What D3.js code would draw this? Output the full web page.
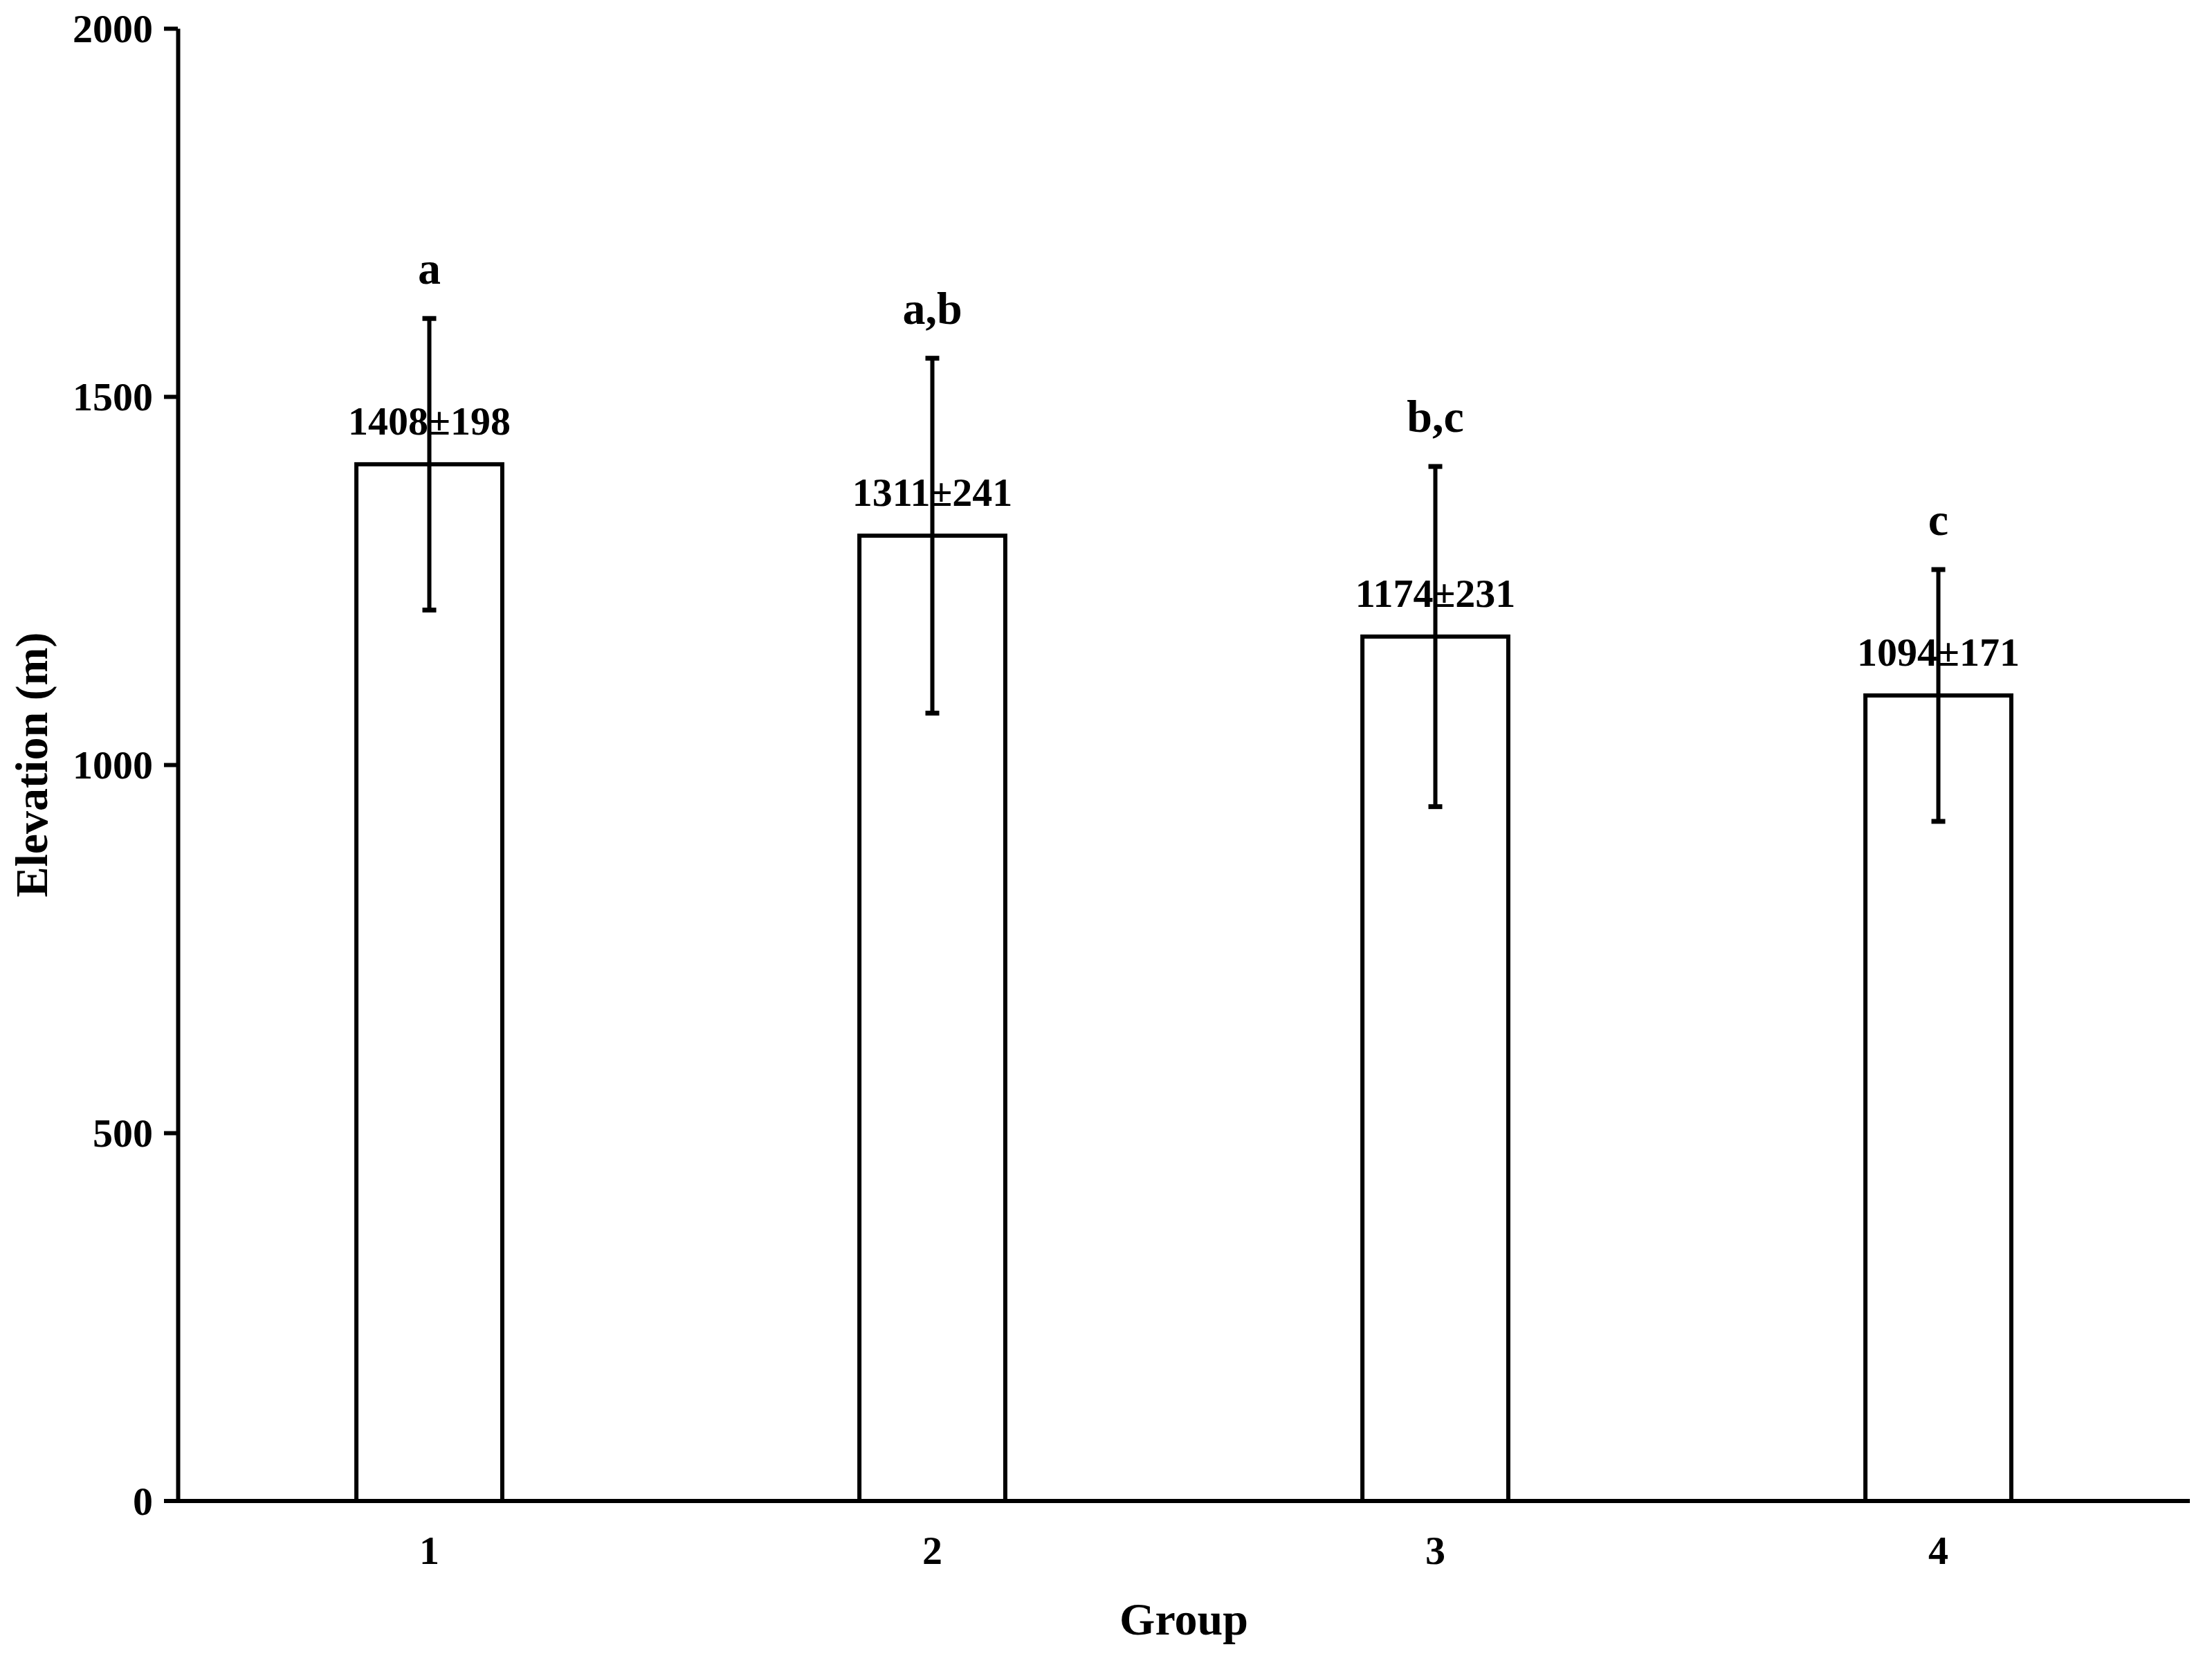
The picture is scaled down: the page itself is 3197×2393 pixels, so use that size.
<html lang="en">
  <head>
    <title>Elevation by Group</title>
    <script src="https://d3js.org/d3.v7.min.js"></script>
    <style>
    body { margin: 0; background: white; }
    .chart text {
      font-family: "Liberation Serif", "Times New Roman", serif;
      font-weight: bold;
      fill: black;
    }
    .chart .domain, .chart .tick line { stroke: black; stroke-width: 6; }
    </style>
  </head>
  <body>
    <svg class="chart"></svg>
    <script>
      var groups = ["1", "2", "3", "4"];
      var means = [1408, 1311, 1174, 1094];
      var sds = [198, 241, 231, 171];
      var letters = ["a", "a,b", "b,c", "c"];
      var yTicks = [0, 500, 1000, 1500, 2000];

      var width = 3197, height = 2393;
      var mLeft = 257, mRight = 3165, mTop = 41, mBottom = 2169;

      var svg = d3.select(".chart")
                  .attr("width", width)
                  .attr("height", height);

      var x = d3.scaleBand()
                .domain(groups)
                .range([mLeft, mRight])
                .paddingInner(0.71)
                .paddingOuter(0.355);

      var y = d3.scaleLinear()
                .domain([0, 2000])
                .range([mBottom, mTop]);

      var data = groups.map(function(g, i) {
        return {g: g, m: means[i], sd: sds[i], letter: letters[i]};
      });

      // y axis
      var yAxis = svg.append("g")
                     .attr("transform", "translate(" + mLeft + ",0)")
                     .call(d3.axisLeft(y).tickValues(yTicks).tickFormat(d3.format("d"))
                             .tickSize(20).tickSizeOuter(0).tickPadding(16));
      yAxis.selectAll(".tick text").style("font-size", "58px").attr("dy", "0.34em");
      yAxis.selectAll(".tick").filter(function(d) { return d === 0; }).select("line").remove();

      // x axis
      var xAxis = svg.append("g")
                     .attr("transform", "translate(0," + mBottom + ")")
                     .call(d3.axisBottom(x).tickSize(0).tickSizeOuter(0).tickPadding(50));
      xAxis.select(".domain").attr("d", "M" + (mLeft - 20) + ",0H" + mRight);
      xAxis.selectAll(".tick text").style("font-size", "58px");

      var bars = svg.selectAll(".bar")
                    .data(data)
                  .enter().append("g")
                    .attr("class", "bar");

      bars.append("rect")
          .attr("x", function(d) { return x(d.g); })
          .attr("y", function(d) { return y(d.m); })
          .attr("width", x.bandwidth())
          .attr("height", function(d) { return mBottom - y(d.m); })
          .attr("fill", "white")
          .attr("stroke", "black")
          .attr("stroke-width", 6);

      var cx = function(d) { return x(d.g) + x.bandwidth() / 2; };

      bars.append("line")
          .attr("x1", cx).attr("x2", cx)
          .attr("y1", function(d) { return y(d.m - d.sd); })
          .attr("y2", function(d) { return y(d.m + d.sd); })
          .attr("stroke", "black").attr("stroke-width", 6);

      [-1, 1].forEach(function(s) {
        bars.append("line")
            .attr("x1", function(d) { return cx(d) - 10; })
            .attr("x2", function(d) { return cx(d) + 10; })
            .attr("y1", function(d) { return y(d.m + s * d.sd); })
            .attr("y2", function(d) { return y(d.m + s * d.sd); })
            .attr("stroke", "black").attr("stroke-width", 7);
      });

      bars.append("text")
          .attr("x", cx)
          .attr("y", function(d) { return y(d.m) - 43; })
          .attr("text-anchor", "middle")
          .style("font-size", "58px")
          .text(function(d) { return d.m + "±" + d.sd; });

      bars.append("text")
          .attr("x", cx)
          .attr("y", function(d) { return y(d.m + d.sd) - 50; })
          .attr("text-anchor", "middle")
          .style("font-size", "66px")
          .text(function(d) { return d.letter; });

      svg.append("text")
         .attr("x", (mLeft + mRight) / 2)
         .attr("y", 2362)
         .attr("text-anchor", "middle")
         .style("font-size", "66px")
         .text("Group");

      svg.append("text")
         .attr("transform", "translate(68," + ((mTop + mBottom) / 2) + ") rotate(-90)")
         .attr("text-anchor", "middle")
         .style("font-size", "66px")
         .text("Elevation (m)");
    </script>
  </body>
</html>
